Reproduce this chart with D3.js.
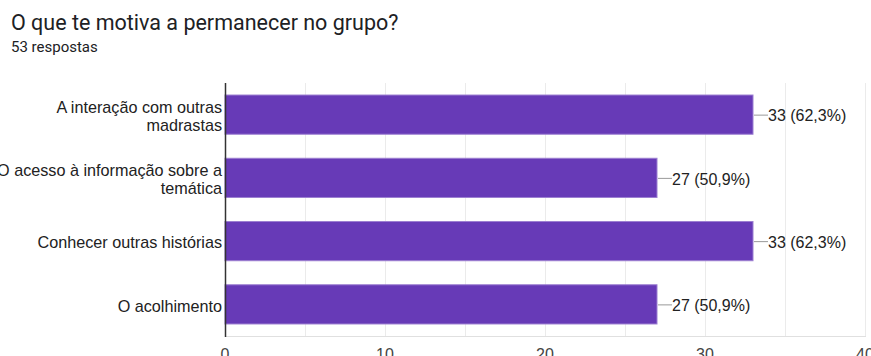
<!DOCTYPE html>
<html>
<head>
<meta charset="utf-8">
<script src="https://cdn.jsdelivr.net/npm/d3@7"></script>
<style>
  body { margin: 0; background: #fff; }
  svg { display: block; }
</style>
</head>
<body>
<div id="chart"></div>
<script>
'use strict'

const categories = [
  'A interação com outras\nmadrastas',
  'O acesso à informação sobre a\ntemática',
  'Conhecer outras histórias',
  'O acolhimento'
]
const counts = [33, 27, 33, 27]
const percents = ['62,3%', '50,9%', '62,3%', '50,9%']
const xTicks = [0, 10, 20, 30, 40]
const xGrid = [0, 5, 10, 15, 20, 25, 30, 35, 40]

const width = 871
const height = 356
const margin = { top: 83, left: 225, right: 6, bottom: 20 }
const plotBottom = 336
const labelFont = 'Arial, "Liberation Sans", sans-serif'

const svg = d3.select('#chart').append('svg')
  .attr('width', width)
  .attr('height', height)

svg.append('text')
  .attr('x', 11)
  .attr('y', 30)
  .style('font-family', 'Roboto, Arial, sans-serif')
  .style('font-size', '21.5px')
  .style('fill', '#202124')
  .text('O que te motiva a permanecer no grupo?')

svg.append('text')
  .attr('x', 11)
  .attr('y', 52)
  .style('font-family', 'Roboto, Arial, sans-serif')
  .style('font-size', '15px')
  .style('fill', '#202124')
  .text('53 respostas')

const x = d3.scaleLinear()
  .domain([0, 40])
  .range([margin.left, 865])

const y = d3.scaleBand()
  .domain(categories)
  .range([margin.top, plotBottom])
  .paddingInner(0.38)
  .paddingOuter(0.19)

// gridlines
svg.append('g')
  .selectAll('line')
  .data(xGrid)
  .join('line')
  .attr('x1', d => x(d) + 0.5)
  .attr('x2', d => x(d) + 0.5)
  .attr('y1', margin.top)
  .attr('y2', plotBottom)
  .style('stroke', '#ebebeb')
  .style('stroke-width', 1)

svg.append('line')
  .attr('x1', margin.left)
  .attr('x2', x(40) + 1)
  .attr('y1', plotBottom + 0.5)
  .attr('y2', plotBottom + 0.5)
  .style('stroke', '#e0e0e0')

// bars
svg.append('g')
  .selectAll('rect')
  .data(categories)
  .join('rect')
  .attr('x', x(0))
  .attr('y', d => y(d))
  .attr('width', (d, i) => x(counts[i]) - x(0))
  .attr('height', y.bandwidth())
  .style('fill', '#673ab7')
  .style('stroke', '#9c7fd1')
  .style('stroke-width', 1)

// value leaders and labels
const valueGroup = svg.append('g')
categories.forEach((c, i) => {
  const cy = y(c) + y.bandwidth() / 2
  valueGroup.append('line')
    .attr('x1', x(counts[i]) + 1)
    .attr('x2', x(counts[i]) + 15)
    .attr('y1', cy + 0.5)
    .attr('y2', cy + 0.5)
    .style('stroke', '#999')
  valueGroup.append('text')
    .attr('x', x(counts[i]) + 15)
    .attr('y', cy + 1)
    .attr('dy', '0.36em')
    .style('font-family', labelFont)
    .style('font-size', '16px')
    .style('fill', '#222')
    .text(`${counts[i]} (${percents[i]})`)
})

// category labels
const catGroup = svg.append('g')
categories.forEach(c => {
  const lines = c.split('\n')
  const cy = y(c) + y.bandwidth() / 2
  const lh = 18.5
  const t = catGroup.append('text')
    .attr('text-anchor', 'end')
    .style('font-family', labelFont)
    .style('font-size', '16.2px')
    .style('fill', '#222')
  lines.forEach((ln, k) => {
    t.append('tspan')
      .attr('x', margin.left - 3)
      .attr('y', cy + 1.5 + (k - (lines.length - 1) / 2) * lh)
      .attr('dy', '0.36em')
      .text(ln)
  })
})

// axis line
svg.append('line')
  .attr('x1', margin.left + 0.5)
  .attr('x2', margin.left + 0.5)
  .attr('y1', margin.top)
  .attr('y2', plotBottom + 1)
  .style('stroke', '#333')
  .style('stroke-width', 1.5)

// x tick labels (cut by the lower edge, as in the source image)
svg.append('g')
  .selectAll('text')
  .data(xTicks)
  .join('text')
  .attr('x', d => x(d))
  .attr('y', plotBottom + 24)
  .attr('text-anchor', 'middle')
  .style('font-family', labelFont)
  .style('font-size', '16px')
  .style('fill', '#444')
  .text(d => d)
</script>
</body>
</html>
